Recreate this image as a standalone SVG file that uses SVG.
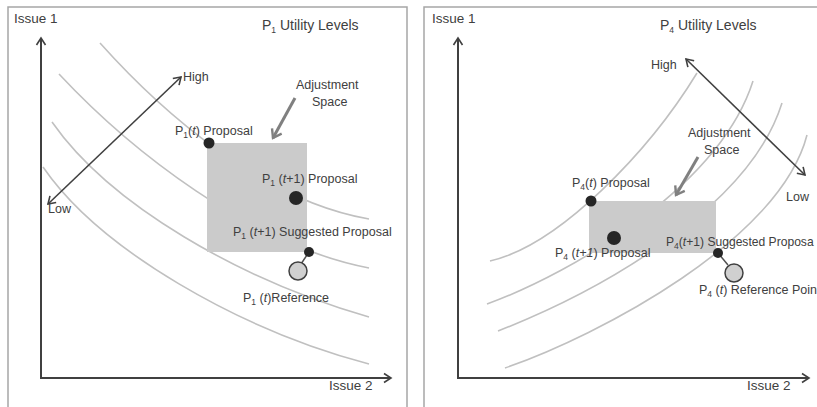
<svg xmlns="http://www.w3.org/2000/svg" width="817" height="407" viewBox="0 0 817 407">
<style>
text{font-family:"Liberation Sans",Arial,sans-serif;fill:#404040;font-size:12.5px}
.ttl{font-size:14px}
.ax{font-size:13.5px}
.sub{font-size:8.5px}
.it{font-style:italic}
.tight{font-size:12.1px}
.frame{fill:none;stroke:#a6a6a6;stroke-width:1.5}
.axis{fill:none;stroke:#404040;stroke-width:2}
.curve{fill:none;stroke:#c0c0c0;stroke-width:1.6}
.dbl{fill:none;stroke:#404040;stroke-width:1.6}
.adj{fill:none;stroke:#808080;stroke-width:3}
.space{fill:#cbcbcb}
.dot{fill:#262626}
.ref{fill:#d0d0d0;stroke:#404040;stroke-width:1.5}
.link{stroke:#505050;stroke-width:1.5}
</style>
<defs>
<marker id="ah" markerUnits="userSpaceOnUse" markerWidth="12" markerHeight="12" refX="9" refY="6" orient="auto-start-reverse"><path d="M2,1.5 L9,6 L2,10.5" fill="none" stroke="#404040" stroke-width="1.6"/></marker>
<marker id="ahg" markerUnits="userSpaceOnUse" markerWidth="14" markerHeight="14" refX="10" refY="7" orient="auto"><path d="M2,1.5 L10,7 L2,12.5" fill="none" stroke="#808080" stroke-width="2.4"/></marker>
</defs>
<rect width="817" height="407" fill="#ffffff"/>

<!-- LEFT PANEL -->
<g id="left-panel">
<rect class="frame" x="8" y="7" width="399" height="410"/>
<g id="left-axes">
<path class="axis" d="M41,378 L41,38" marker-end="url(#ah)"/>
<path class="axis" d="M40,378 L391,378" marker-end="url(#ah)"/>
<text class="ax" x="14" y="23">Issue 1</text>
<text class="ax" x="329" y="390">Issue 2</text>
</g>
<text id="left-title" class="ttl" x="262" y="30">P<tspan class="sub" dy="3">1</tspan><tspan dy="-3"> Utility Levels</tspan></text>
<g id="left-curves">
<path class="curve" d="M100,43 C160,110 260,200 369,219"/>
<path class="curve" d="M59,74 C130,150 250,245 369,268"/>
<path class="curve" d="M52,122 C110,205 240,280 369,317"/>
<path class="curve" d="M43,167 C100,250 240,330 369,364"/>
</g>
<rect id="left-adjustment-space" class="space" x="207" y="143" width="100" height="109"/>
<g id="left-connectors">
<path class="dbl" d="M48,204 L181,77" marker-start="url(#ah)" marker-end="url(#ah)"/>
<path class="adj" d="M295,98 L273,138" marker-end="url(#ahg)"/>
<line class="link" x1="309" y1="252" x2="301" y2="264"/>
</g>
<g id="left-high"><text x="183" y="81">High</text></g>
<g id="left-low"><text x="48" y="213">Low</text></g>
<g id="left-adj-label"><text x="296" y="89">Adjustment</text><text x="312" y="106">Space</text></g>
<g id="p1-t-proposal"><circle class="dot" cx="209" cy="143" r="5.5"/><text x="175" y="135">P<tspan class="sub" dy="3">1</tspan><tspan dy="-3">(</tspan><tspan class="it">t</tspan>) Proposal</text></g>
<g id="p1-t1-proposal"><circle class="dot" cx="296" cy="198" r="7"/><text x="262" y="183">P<tspan class="sub" dy="3">1</tspan><tspan dy="-3"> (</tspan><tspan class="it">t</tspan>+1) Proposal</text></g>
<g id="p1-t1-suggested"><circle class="dot" cx="309" cy="252" r="5"/><text x="233" y="236">P<tspan class="sub" dy="3">1</tspan><tspan dy="-3"> (</tspan><tspan class="it">t</tspan>+1) Suggested Proposal</text></g>
<g id="p1-t-reference"><circle class="ref" cx="298" cy="271" r="9"/><text x="243" y="302">P<tspan class="sub" dy="3">1</tspan><tspan dy="-3"> (</tspan><tspan class="it">t</tspan>)Reference</text></g>
</g>

<!-- RIGHT PANEL -->
<g id="right-panel">
<rect class="frame" x="424" y="7" width="400" height="410"/>
<g id="right-axes">
<path class="axis" d="M458,378 L458,38" marker-end="url(#ah)"/>
<path class="axis" d="M457,378 L809,378" marker-end="url(#ah)"/>
<text class="ax" x="432" y="23">Issue 1</text>
<text class="ax" x="747" y="390">Issue 2</text>
</g>
<text id="right-title" class="ttl" x="660" y="30">P<tspan class="sub" dy="3">4</tspan><tspan dy="-3"> Utility Levels</tspan></text>
<g id="right-curves">
<path class="curve" d="M490,261 C560,245 650,150 697,73"/>
<path class="curve" d="M487,304 C575,272 720,185 753,81"/>
<path class="curve" d="M498,331 C590,295 748,212 782,103"/>
<path class="curve" d="M505,368 C600,335 780,240 807,135"/>
</g>
<rect id="right-adjustment-space" class="space" x="589" y="201" width="127" height="52"/>
<g id="right-connectors">
<path class="dbl" d="M686,59 L805,175" marker-start="url(#ah)" marker-end="url(#ah)"/>
<path class="adj" d="M698,157 L676,195" marker-end="url(#ahg)"/>
<line class="link" x1="718" y1="253" x2="728" y2="265"/>
</g>
<g id="right-high"><text x="651" y="69">High</text></g>
<g id="right-low"><text x="786" y="201">Low</text></g>
<g id="right-adj-label"><text x="688" y="137">Adjustment</text><text x="704" y="154">Space</text></g>
<g id="p4-t-proposal"><circle class="dot" cx="591" cy="201" r="5.5"/><text x="572" y="187">P<tspan class="sub" dy="3">4</tspan><tspan dy="-3">(</tspan><tspan class="it">t</tspan>) Proposal</text></g>
<g id="p4-t1-proposal"><circle class="dot" cx="614" cy="238" r="7"/><text x="555" y="257">P<tspan class="sub" dy="3">4</tspan><tspan dy="-3"> (</tspan><tspan class="it">t+1</tspan>) Proposal</text></g>
<g id="p4-t1-suggested"><circle class="dot" cx="718" cy="253" r="5"/><text class="tight" x="666" y="246">P<tspan class="sub" dy="3">4</tspan><tspan dy="-3">(</tspan><tspan class="it">t</tspan>+1) Suggested Proposa</text></g>
<g id="p4-t-reference"><circle class="ref" cx="734" cy="273" r="9"/><text x="699" y="294">P<tspan class="sub" dy="3">4</tspan><tspan dy="-3"> (</tspan><tspan class="it">t</tspan>) Reference Poin</text></g>
</g>
</svg>
